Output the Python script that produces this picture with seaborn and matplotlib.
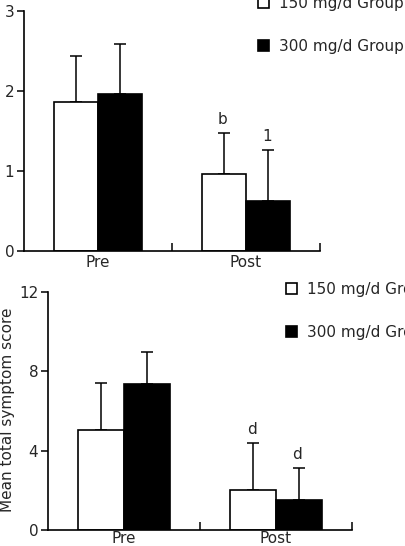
import matplotlib
matplotlib.use("Agg")
import matplotlib.pyplot as plt
import seaborn as sns
import pandas as pd
from matplotlib.ticker import FixedLocator

sns.set_style("white")
plt.rcParams['font.family'] = ['DejaVu Sans']

periods = ["Pre", "Post"]
groups = ["150 mg/d Group", "300 mg/d Group"]

# top panel
top_150 = [1.86, 0.96]
top_300 = [1.96, 0.63]
top_150_err = [0.58, 0.51]
top_300_err = [0.63, 0.63]
top_150_marks = ["", "b"]
top_300_marks = ["", "1"]
top_yticks = [0, 1, 2, 3]

# bottom panel
bot_150 = [5.06, 2.04]
bot_300 = [7.34, 1.52]
bot_150_err = [2.34, 2.36]
bot_300_err = [1.64, 1.60]
bot_150_marks = ["", "d"]
bot_300_marks = ["", "d"]
bot_yticks = [0, 4, 8, 12]

ylabel_bottom = "Mean total symptom score"

W, H = 405, 546
fig = plt.figure(figsize=(W / 100, H / 100), dpi=100)


def px_rect(left, right, y0, ytop):
    return [left / W, 1 - y0 / H, (right - left) / W, (y0 - ytop) / H]


def panel(ax, v150, v300, e150, e300, m150, m300, yticks, ymax, legend_anchor, xpad):
    df = pd.DataFrame({
        "period": periods * 2,
        "group": [groups[0]] * 2 + [groups[1]] * 2,
        "value": list(v150) + list(v300),
    })
    sns.barplot(data=df, x="period", y="value", hue="group", order=periods,
                hue_order=groups, palette={groups[0]: "white", groups[1]: "black"},
                edgecolor="black", linewidth=1.2, width=0.6, gap=0,
                errorbar=None, ax=ax, legend=True, zorder=2)
    errs = [e150, e300]
    marks = [m150, m300]
    vals = [v150, v300]
    bar_conts = list(ax.containers)
    for ci, cont in enumerate(bar_conts):
        xs = [p.get_x() + p.get_width() / 2 for p in cont.patches]
        ax.errorbar(xs, vals[ci], yerr=[[0] * len(xs), errs[ci]], fmt="none",
                    ecolor="black", elinewidth=1.1, capsize=4.5, capthick=1.1, zorder=1)
        for x, v, e, m in zip(xs, vals[ci], errs[ci], marks[ci]):
            if m:
                ax.text(x - 0.01, v + e + ymax * 0.025, m, ha="center", va="bottom",
                        fontsize=11)
    ax.set_xlim(-0.5, 1.5)
    ax.set_ylim(0, ymax)
    ax.set_yticks(yticks)
    ax.set_yticklabels([str(t) for t in yticks], fontsize=11)
    ax.set_xlabel("")
    ax.set_ylabel("")
    ax.xaxis.set_minor_locator(FixedLocator([0.5, 1.5]))
    ax.tick_params(axis="x", which="major", length=0, labelsize=11, pad=xpad)
    ax.tick_params(axis="x", which="minor", direction="in", length=6, width=1.1,
                   bottom=True, color="black")
    ax.tick_params(axis="y", which="major", direction="out", length=5, width=1.1,
                   left=True, color="black", pad=2)
    for s in ["top", "right"]:
        ax.spines[s].set_visible(False)
    for s in ["left", "bottom"]:
        ax.spines[s].set_color("black")
        ax.spines[s].set_linewidth(1.2)
    handles, labels = ax.get_legend_handles_labels()
    if ax.get_legend() is not None:
        ax.get_legend().remove()
    fig.legend(handles, labels, loc="center left", bbox_to_anchor=legend_anchor,
               bbox_transform=fig.transFigure, frameon=False, fontsize=11,
               handlelength=0.75, handleheight=0.75, handletextpad=0.6,
               labelspacing=1.85, borderpad=0, borderaxespad=0)


ax1 = fig.add_axes(px_rect(24, 320, 251, 11))
panel(ax1, top_150, top_300, top_150_err, top_300_err, top_150_marks, top_300_marks,
      top_yticks, 3, (258 / W, 1 - 25 / H), 3)

ax2 = fig.add_axes(px_rect(48, 352, 530, 292))
panel(ax2, bot_150, bot_300, bot_150_err, bot_300_err, bot_150_marks, bot_300_marks,
      bot_yticks, 12, (286 / W, 1 - 311 / H), 0.5)

fig.text(7.5 / W, 1 - 410 / H, ylabel_bottom, rotation=90, ha="center", va="center",
         fontsize=11)

fig.savefig("out.png", dpi=100)
